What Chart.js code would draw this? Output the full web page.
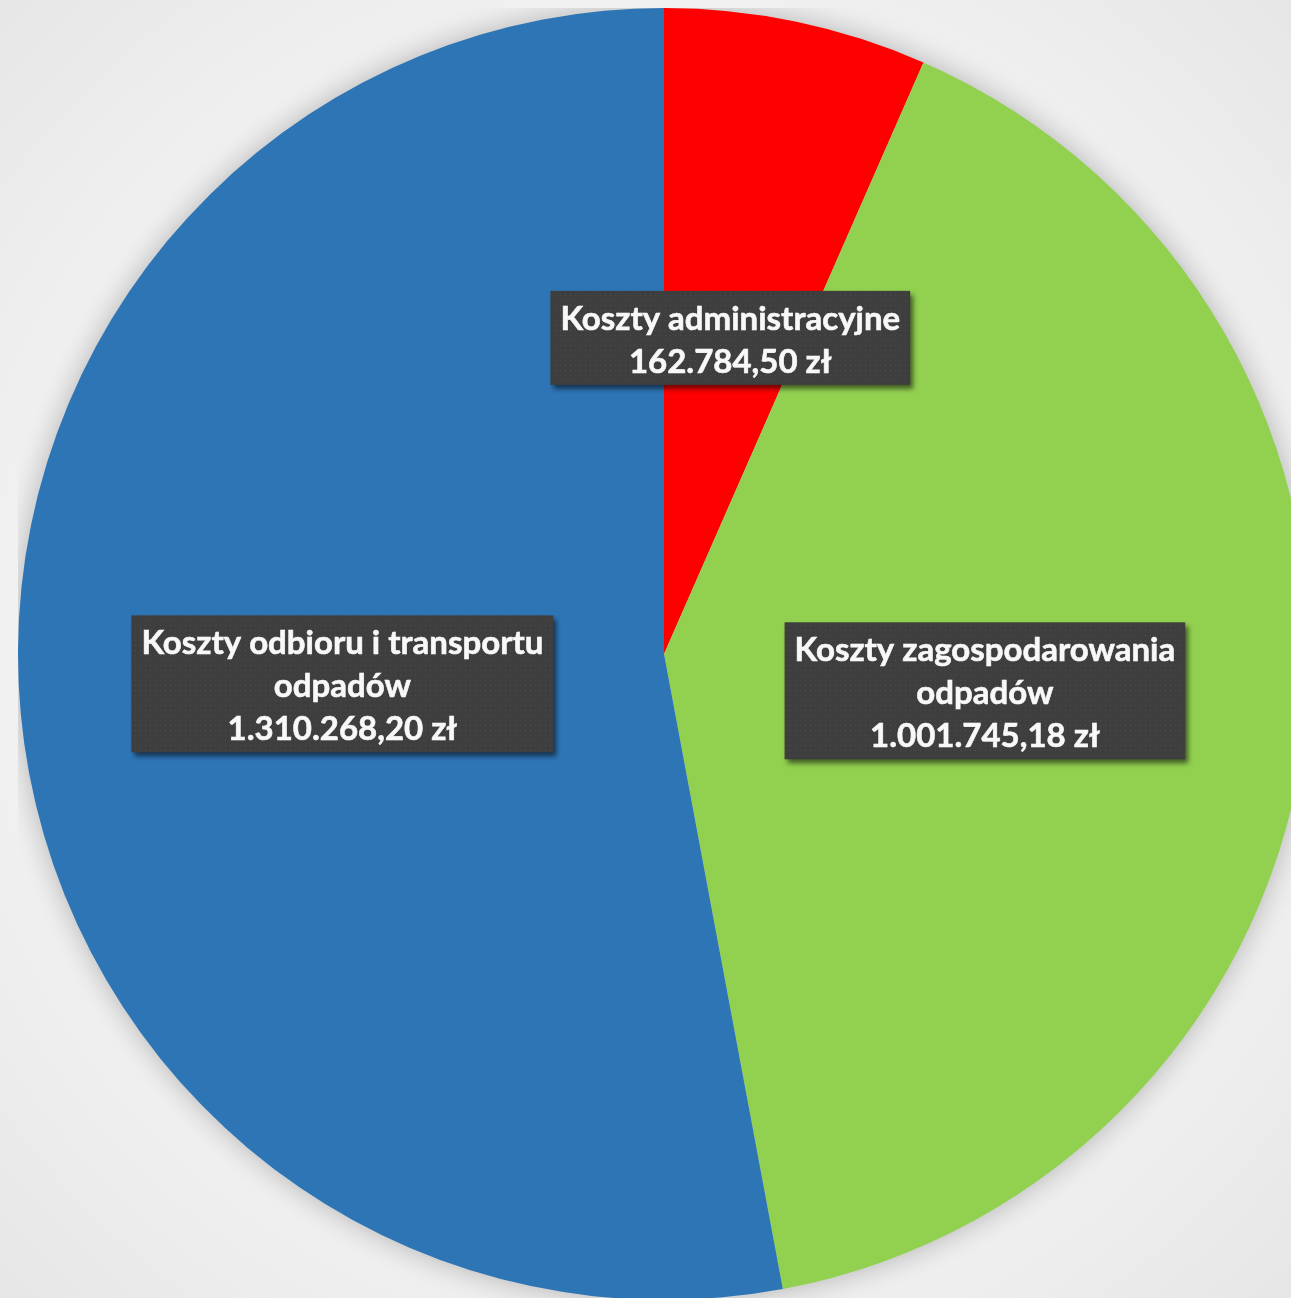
<!DOCTYPE html>
<html>
<head>
<meta charset="utf-8">
<script src="https://cdn.jsdelivr.net/npm/chart.js@4"></script>
<style>
  html, body { margin: 0; padding: 0; }
  body {
    width: 1291px; height: 1298px; overflow: hidden; position: relative;
    background: radial-gradient(circle at 50% 50%, #fbfbfb 0%, #f4f4f4 60%, #e6e6e6 100%);
  }
  #wrap { position: absolute; left: 18px; top: 8px; width: 1292px; height: 1292px; }
</style>
</head>
<body>
<div id="wrap"><canvas id="chart"></canvas></div>
<script>
// data
const categories = [
    ['Koszty administracyjne'],
    ['Koszty zagospodarowania', 'odpadów'],
    ['Koszty odbioru i transportu', 'odpadów']
];
const values = [162784.50, 1001745.18, 1310268.20];
const colors = ['#ff0000', '#92d050', '#2e75b6'];

// 1234567.8 -> "1.234.567,80 zł"
function formatZl(v) {
    const parts = v.toFixed(2).split('.');
    const intPart = parts[0].replace(/\B(?=(\d{3})+(?!\d))/g, '.');
    return intPart + ',' + parts[1] + ' zł';
}

// small dotted texture for the label boxes
function makePattern(ctx) {
    const c = document.createElement('canvas');
    c.width = 5; c.height = 5;
    const p = c.getContext('2d');
    p.fillStyle = '#3e3e3e';
    p.fillRect(0, 0, 5, 5);
    p.fillStyle = '#4d4d4d';
    p.fillRect(2, 2, 1, 1);
    return ctx.createPattern(c, 'repeat');
}

const pieShadow = {
    id: 'pieShadow',
    beforeDatasetsDraw(chart) {
        const arc = chart.getDatasetMeta(0).data[0];
        if (!arc) return;
        const ctx = chart.ctx;
        ctx.save();
        ctx.shadowColor = 'rgba(0,0,0,0.28)';
        ctx.shadowBlur = 30;
        ctx.fillStyle = '#cccccc';
        ctx.beginPath();
        ctx.arc(arc.x, arc.y, arc.outerRadius - 1, 0, Math.PI * 2);
        ctx.fill();
        ctx.restore();
    }
};

const boxLabels = {
    id: 'boxLabels',
    afterDatasetsDraw(chart) {
        const ctx = chart.ctx;
        const meta = chart.getDatasetMeta(0);
        const pattern = makePattern(ctx);
        const lineH = 43;
        ctx.save();
        ctx.font = 'bold 33px Lato, "Open Sans", sans-serif';
        ctx.textAlign = 'center';
        ctx.textBaseline = 'middle';
        meta.data.forEach((arc, i) => {
            const lines = categories[i].concat([formatZl(values[i])]);
            const pos = arc.tooltipPosition();
            let w = 0;
            lines.forEach(l => { w = Math.max(w, ctx.measureText(l).width); });
            const bw = w + 20;
            const bh = lines.length * lineH + 8;
            const bx = pos.x - bw / 2;
            const by = pos.y - bh / 2;
            ctx.save();
            ctx.shadowColor = 'rgba(0,0,0,0.55)';
            ctx.shadowBlur = 5;
            ctx.shadowOffsetX = 3;
            ctx.shadowOffsetY = 4;
            ctx.fillStyle = pattern;
            ctx.fillRect(bx, by, bw, bh);
            ctx.restore();
            ctx.fillStyle = '#f8f8f8';
            ctx.strokeStyle = '#f8f8f8';
            ctx.lineWidth = 0.6;
            lines.forEach((l, k) => {
                const ty = by + 4 + lineH * (k + 0.5) + 3;
                ctx.fillText(l, pos.x, ty);
                ctx.strokeText(l, pos.x, ty);
            });
        });
        ctx.restore();
    }
};

new Chart(document.getElementById('chart').getContext('2d'), {
    type: 'pie',
    data: {
        labels: categories.map(c => c.join(' ')),
        datasets: [{
            data: values,
            backgroundColor: colors,
            borderWidth: 0,
            hoverOffset: 0
        }]
    },
    options: {
        responsive: true,
        maintainAspectRatio: false,
        animation: false,
        layout: { padding: 0 },
        plugins: {
            legend: { display: false },
            tooltip: { enabled: false }
        }
    },
    plugins: [pieShadow, boxLabels]
});
</script>
</body>
</html>
